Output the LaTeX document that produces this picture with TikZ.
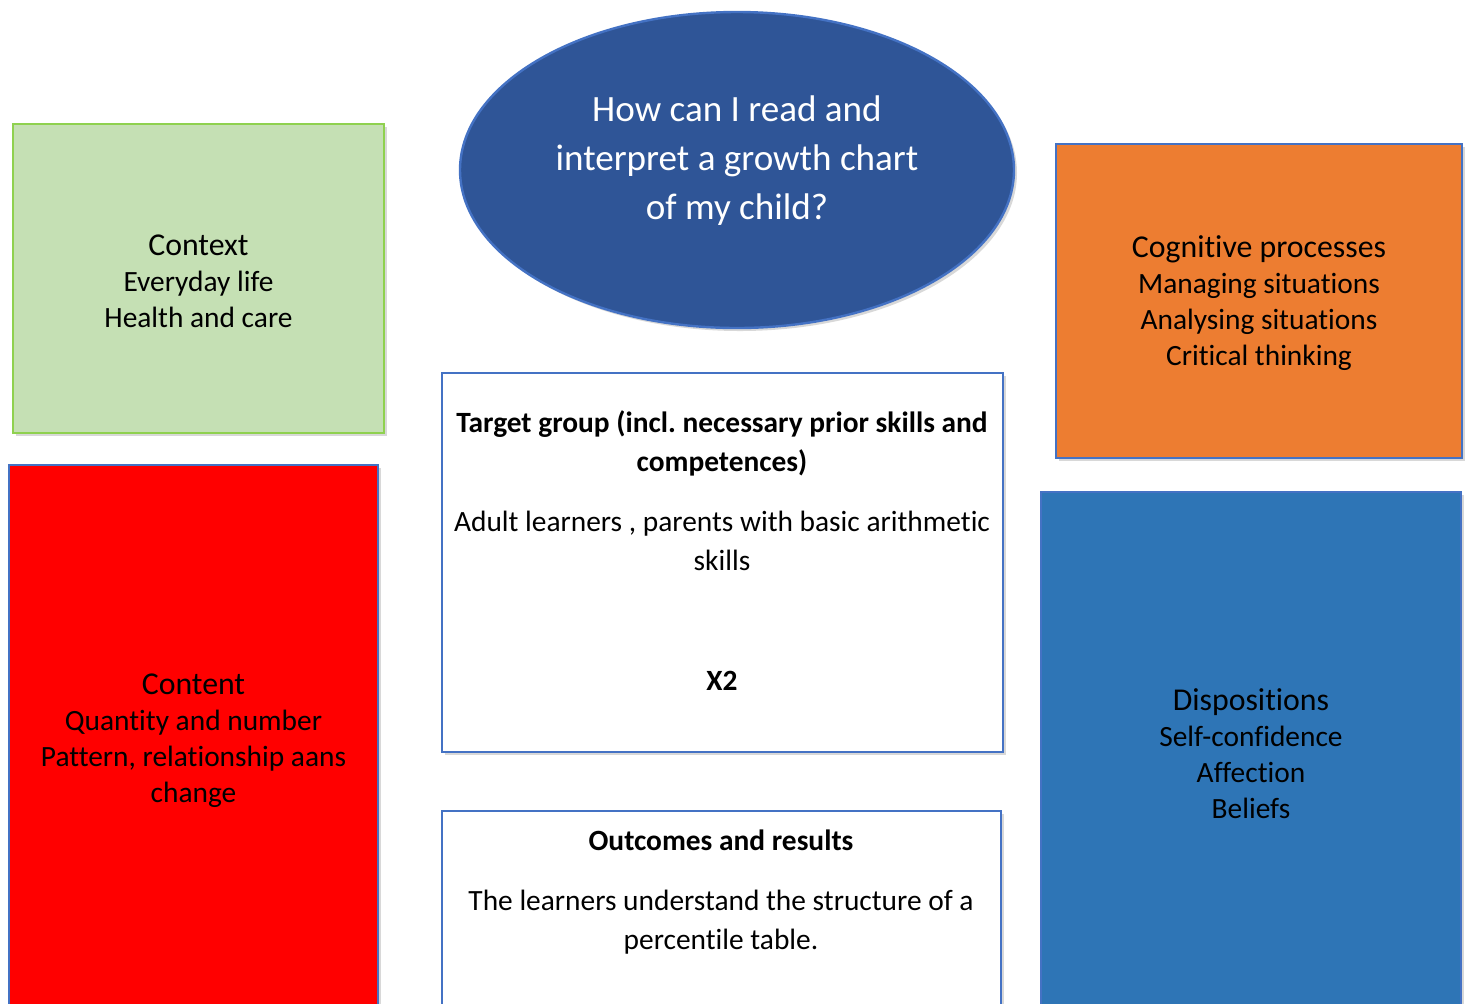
\documentclass[tikz,border=0pt]{standalone}
\usepackage{fontspec}
\setmainfont{Carlito}[Ligatures=NoCommon]
\usetikzlibrary{shapes.geometric,shadows}
\frenchspacing

\definecolor{ctxgreen}{HTML}{C5E0B4}
\definecolor{ctxedge}{HTML}{8FD14F}
\definecolor{cntred}{HTML}{FF0000}
\definecolor{edgeblue}{HTML}{4472C4}
\definecolor{qblue}{HTML}{2F5597}
\definecolor{cogorange}{HTML}{ED7D31}
\definecolor{disblue}{HTML}{2E75B6}

\newcommand{\headfont}{\fontsize{15.9}{18}\selectfont\rule{0pt}{13pt}}
\newcommand{\bodyfont}{\fontsize{14.7}{18}\selectfont}
\newcommand{\cardfont}{\fontsize{14.7}{19.5}\selectfont}
\newcommand{\askfont}{\fontsize{18.55}{24.5}\selectfont}

\begin{document}
\begin{tikzpicture}[x=0.5pt,y=-0.5pt,
    card/.style={draw=edgeblue, line width=1.2pt, inner sep=0pt, align=center,
        font=\bodyfont,
        drop shadow={opacity=0.3, shadow xshift=1.5pt, shadow yshift=-1.5pt}},
    plain/.style={inner sep=0pt, align=center}]
    \clip (0,0) rectangle (1468,1003);
    \fill[white] (0,0) rectangle (1468,1003);

    % question
    \node (ask) [card, ellipse, fill=qblue, minimum width=277pt, minimum height=158pt] at (737,170) {};
    \node (asktext) [plain, text=white, font=\askfont] at (737,161) {How can I read and\\interpret a growth chart\\of my child?};

    % left column
    \node (context) [card, draw=ctxedge, fill=ctxgreen, minimum width=185.5pt, minimum height=154.5pt] at (198.5,278.5)
        {{\headfont Context}\\Everyday life\\Health and care};
    \node (content) [card, fill=cntred, minimum width=184.5pt, minimum height=273pt] at (193.5,738)
        {{\headfont Content}\\Quantity and number\\Pattern, relationship aans\\change};

    % right column
    \node (cognitive) [card, fill=cogorange, minimum width=203pt, minimum height=157pt] at (1259,301)
        {{\headfont Cognitive processes}\\Managing situations\\Analysing situations\\Critical thinking};
    \node (dispositions) [card, fill=disblue, minimum width=210pt, minimum height=260pt] at (1251,752)
        {{\headfont Dispositions}\\Self-confidence\\Affection\\Beliefs};

    % middle column
    \node (target) [card, fill=white, minimum width=280.5pt, minimum height=189.5pt] at (722.5,562.5) {};
    \node (targettext) [plain, font=\cardfont] at (722,551)
        {\textbf{Target group (incl. necessary prior skills and}\\\textbf{competences)}\\[10.5pt]
         Adult learners , parents with basic arithmetic\\skills\\[40.5pt]\textbf{X2}};
    \node (outcomes) [card, fill=white, minimum width=279.5pt, minimum height=130pt] at (721.5,941) {};
    \node (outcomestext) [plain, font=\cardfont] at (721,892)
        {\textbf{Outcomes and results}\\[10.5pt]
         The learners understand the structure of a\\percentile table.};
\end{tikzpicture}
\end{document}
